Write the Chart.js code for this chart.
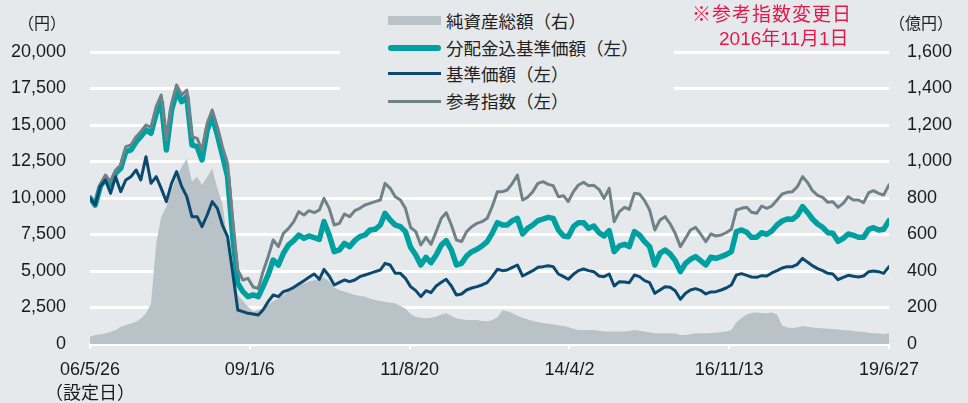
<!DOCTYPE html>
<html lang="ja">
<head>
<meta charset="utf-8">
<script src="https://cdn.jsdelivr.net/npm/chart.js@4/dist/chart.umd.min.js"></script>
<style>
    html, body { margin: 0; padding: 0; background: #e6e9ec; }
    #wrap { position: relative; width: 968px; height: 403px; overflow: hidden; }
    #chart { position: absolute; left: 0; top: 0; }
    .unit { position: absolute; top: 12px; font: 16px "Noto Sans CJK JP", sans-serif; color: #222; line-height: 20px; }
    #legend { position: absolute; left: 340px; top: 0; width: 334px; height: 114px; background: #e6e9ec; }
    .item { position: absolute; left: 106px; font: 17.5px "Noto Sans CJK JP", sans-serif; color: #222; line-height: 20px; white-space: nowrap; }
    .sw { position: absolute; left: 48px; }
    .note { position: absolute; font: 19px "Liberation Sans", "Noto Sans CJK JP", sans-serif; color: #e3194b; line-height: 22px; white-space: nowrap; }
</style>
</head>
<body>
<div id="wrap">
    <canvas id="chart" width="968" height="403"></canvas>
    <div class="unit" style="left:18px">（円）</div>
    <div class="unit" style="left:889px">（億円）</div>
    <div id="legend">
        <div class="sw" style="top:16px;width:53px;height:9px;background:#b9c3c7"></div>
        <div class="item" style="top:11px">純資産総額（右）</div>
        <div class="sw" style="top:45px;width:53px;height:6px;background:#00a0a0;border-radius:3px"></div>
        <div class="item" style="top:38px">分配金込基準価額（左）</div>
        <div class="sw" style="top:72px;width:53px;height:3px;background:#0b4a6e"></div>
        <div class="item" style="top:64px">基準価額（左）</div>
        <div class="sw" style="top:100px;width:53px;height:3px;background:#6e8287"></div>
        <div class="item" style="top:91px">参考指数（左）</div>
    </div>
    <div class="note" style="left:692px;top:4px;letter-spacing:1px">※参考指数変更日</div>
    <div class="note" style="left:719px;top:28px">2016年11月1日</div>
</div>
<script>
// monthly readings, 2006/5/26 .. 2019/6/27

// 純資産総額 (億円, right axis)
const netAssets = [
    40, 49, 54, 58, 67, 76, 95, 104, 113, 122, 140, 168, 222, 551, 697, 752,
    843, 917, 971, 1017, 889, 917, 871, 917, 962, 853, 770, 560, 430, 270, 235, 205,
    177, 186, 199, 214, 236, 250, 268, 287, 310, 323, 331, 342, 349, 356, 365, 342,
    309, 296, 287, 278, 268, 265, 259, 250, 241, 236, 232, 226, 223, 208, 195,
    165, 150, 144, 141, 144, 150, 161, 168, 153, 141, 135, 131, 131, 131, 126, 124,
    131, 146, 183, 179, 168, 155, 144, 135, 126, 120, 115, 111, 108, 102, 99, 93, 84,
    77, 77, 77, 77, 73, 68, 68, 68, 68, 68, 71, 77, 73, 68, 64, 59,
    59, 59, 59, 57, 50, 50, 53, 59, 59, 59, 60, 62, 66, 69, 77,
    119, 142, 161, 170, 172, 170, 168, 172, 161, 102, 91, 88, 91, 99, 95, 91,
    88, 86, 84, 82, 80, 77, 75, 71, 69, 66, 62, 59, 57, 55, 59
];

// 分配金込基準価額 (円)
const navWithDist = [
    10000, 9521, 10777, 11347, 10891, 11690, 12033, 13174, 13288, 13858, 14201, 14658, 14429, 15799, 16598, 13288,
    16027, 17283, 16598, 16941, 13630, 13516, 12603, 14658, 15571, 14315, 12945, 11461, 7352, 4156, 3585, 3243,
    3357, 3243, 3928, 4727, 5754, 5412, 6211, 6782, 7078, 7466, 7238, 7398, 7284, 7170, 8380, 7466,
    6325, 6439, 6896, 6667, 7078, 7352, 7466, 7809, 7855, 8151, 8950, 8494, 8151, 8037, 7695,
    6622, 6097, 5412, 5937, 5572, 6097, 6782, 7078, 6439, 5412, 5526, 6028, 6325, 6485, 6713, 7010,
    7580, 8311, 8151, 8151, 8448, 8608, 7535, 7923, 8151, 8448, 8562, 8676, 8608, 7809, 7398, 7352, 8037,
    8311, 8311, 7923, 8083, 7626, 7398, 7763, 6325, 6713, 6827, 6667, 7695, 7466, 7010, 6667, 5412,
    6211, 6439, 6165, 5709, 4955, 5526, 5800, 5982, 5709, 5412, 5937, 5869, 5982, 6120, 6325,
    7695, 7809, 7649, 7307, 7307, 7626, 7512, 7740, 8151, 8425, 8562, 8539, 8813, 9407, 8995, 8562,
    8220, 7992, 7626, 7580, 7033, 7238, 7535, 7444, 7307, 7307, 7855, 7969, 7809, 7855, 8450
];

// 基準価額 (円)
const nav = [
    10000, 9521, 10777, 11233, 10320, 11461, 10434, 11233, 11461, 11918, 11233, 12831, 11005, 11461, 10662, 9749,
    11005, 11804, 10777, 10092, 8722, 8722, 8037, 8836, 9749, 9293, 8151, 7352, 4841, 2330, 2215, 2101,
    2056, 1987, 2330, 2900, 3357, 3243, 3585, 3699, 3882, 4111, 4339, 4567, 4795, 4430, 5115, 4658,
    4042, 4225, 4384, 4270, 4384, 4613, 4727, 4841, 4955, 5069, 5526, 5412, 4841, 4841, 4498,
    3928, 3654, 3243, 3654, 3517, 3974, 4225, 4430, 3974, 3357, 3426, 3699, 3836, 3928, 4042, 4202,
    4613, 5115, 5024, 5069, 5252, 5412, 4658, 4841, 5024, 5252, 5298, 5366, 5298, 4795, 4613, 4430, 4772,
    5024, 5138, 5024, 4955, 4658, 4613, 4795, 3974, 4270, 4248, 4202, 4727, 4613, 4339, 4202, 3471,
    3699, 3928, 3882, 3654, 3060, 3471, 3699, 3791, 3677, 3426, 3563, 3585, 3699, 3836, 4042,
    4727, 4818, 4704, 4590, 4567, 4681, 4658, 4864, 5024, 5207, 5298, 5298, 5457, 5868, 5594, 5366,
    5161, 5024, 4841, 4795, 4407, 4567, 4704, 4635, 4590, 4658, 4955, 5001, 4955, 4841, 5300
];

// 参考指数 (円換算)
const benchmark = [
    10000, 9635, 10891, 11576, 11119, 11918, 12261, 13516, 13630, 14201, 14544, 15000, 14840, 16256, 17055, 13973,
    16484, 17740, 17055, 17397, 14201, 14086, 13288, 15114, 16027, 14886, 13516, 12375, 8494, 5069, 4384, 4500,
    3900, 3800, 4955, 5983, 7124, 6667, 7580, 7923, 8380, 9065, 8836, 9133, 8996, 9179, 9978, 9293,
    8152, 8266, 8905, 8722, 9133, 9293, 9521, 9635, 9749, 9864, 11005, 10662, 10092, 9864, 9293,
    7992, 7695, 6782, 7307, 6827, 7695, 8608, 8996, 8151, 7124, 7010, 7695, 8037, 8266, 8380, 8608,
    9407, 10434, 10434, 10548, 11005, 11576, 9864, 10046, 10434, 11005, 11119, 10936, 10845, 10092, 10160, 9749, 10434,
    10891, 11074, 10845, 10868, 10594, 9978, 10662, 8380, 9065, 9361, 9224, 10320, 10274, 9818, 9179, 7809,
    8494, 8722, 8220, 7580, 6667, 7238, 7809, 7992, 7535, 7010, 7535, 7398, 7466, 7626, 7854,
    9179, 9293, 9361, 9019, 8950, 9452, 9293, 9452, 9864, 10274, 10388, 10434, 10777, 11462, 11051, 10503,
    10183, 10046, 9704, 9750, 9361, 9635, 10092, 9864, 9864, 9681, 10366, 10503, 10320, 10206, 10900
];

const tickDates = ['2006-05-26', '2009-01-06', '2011-08-20', '2014-04-02', '2016-11-13', '2019-06-27'];
const tickLabels = [['06/5/26', '（設定日）'], '09/1/6', '11/8/20', '14/4/2', '16/11/13', '19/6/27'];

const START = Date.UTC(2006, 4, 26);
const END = Date.UTC(2019, 5, 27);
const tickValues = tickDates.map(d => Date.parse(d));
const last = netAssets.length - 1;
const dates = netAssets.map((_, i) => i === last ? END : Date.UTC(2006, 4 + i, 26));

function series(values) {
    return values.map((v, i) => ({x: dates[i], y: v}));
}

const FONT = '"Liberation Sans", "Noto Sans CJK JP", sans-serif';

new Chart(document.getElementById('chart'), {
    type: 'line',
    data: {
        datasets: [
            {data: series(benchmark), borderColor: '#6e8287', borderWidth: 3, order: 2, yAxisID: 'y'},
            {data: series(nav), borderColor: '#0b4a6e', borderWidth: 3, order: 1, yAxisID: 'y'},
            {data: series(navWithDist), borderColor: '#00a0a0', borderWidth: 5.5, order: 3, yAxisID: 'y'},
            {data: series(netAssets), borderWidth: 0, backgroundColor: '#b9c3c7', fill: 'origin', order: 4, yAxisID: 'y2'}
        ]
    },
    options: {
        responsive: false,
        animation: false,
        devicePixelRatio: 1,
        layout: {padding: {top: 52}},
        elements: {
            point: {radius: 0},
            line: {tension: 0, borderJoinStyle: 'round', borderCapStyle: 'round'}
        },
        plugins: {legend: {display: false}, tooltip: {enabled: false}},
        scales: {
            x: {
                type: 'linear',
                min: START,
                max: END,
                afterBuildTicks: (axis) => { axis.ticks = tickValues.map(v => ({value: v})); },
                afterFit: (axis) => { axis.height = 59; },
                grid: {drawOnChartArea: false, drawTicks: true, tickLength: 5, color: '#ffffff', lineWidth: 2},
                border: {display: true, color: '#ffffff', width: 3},
                ticks: {
                    autoSkip: false,
                    maxRotation: 0,
                    padding: 9,
                    color: '#1a1a1a',
                    font: {family: FONT, size: 18, lineHeight: 1.33},
                    callback: (value) => {
                        const i = tickValues.indexOf(value);
                        return i >= 0 ? tickLabels[i] : '';
                    }
                }
            },
            y: {
                position: 'left',
                min: 0,
                max: 20000,
                afterFit: (axis) => { axis.width = 90; },
                grid: {color: '#ffffff', lineWidth: 3, drawTicks: false},
                border: {display: false},
                ticks: {
                    stepSize: 2500,
                    padding: 24,
                    color: '#1a1a1a',
                    font: {family: FONT, size: 18},
                    callback: (v) => v.toLocaleString('en-US')
                }
            },
            y2: {
                position: 'right',
                min: 0,
                max: 1600,
                afterFit: (axis) => { axis.width = 79; },
                grid: {display: false, drawTicks: false},
                border: {display: false},
                ticks: {
                    stepSize: 200,
                    padding: 18,
                    color: '#1a1a1a',
                    font: {family: FONT, size: 18},
                    callback: (v) => v.toLocaleString('en-US')
                }
            }
        }
    }
});
</script>
</body>
</html>
